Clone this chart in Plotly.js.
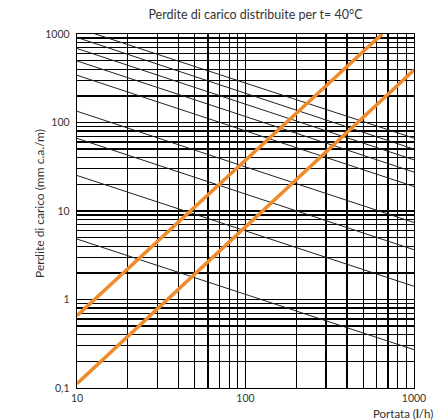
<!DOCTYPE html>
<html>
<head>
<meta charset="utf-8">
<script src="https://cdn.plot.ly/plotly-3.0.1.min.js"></script>
<style>html,body{margin:0;padding:0;background:#fff;}#chart{width:437px;height:420px;}</style>
</head>
<body>
<div id="chart"></div>
<script>
// ---- data ----
// black reference lines: value at x = 10 l/h and at x = 1000 l/h (straight in log-log)
const blackX = [10, 1000];
const blackY10 = [1170, 913, 686, 496, 342, 134, 66.2, 25.2, 4.82];
const blackY1000 = [66.5, 50, 37.8, 27.5, 18.9, 7.41, 3.65, 1.41, 0.271];

// orange curves
const orangeUpperX = [10, 648];
const orangeUpperY = [0.656, 1000];
const orangeLowerX = [10, 1000];
const orangeLowerY = [0.112, 392];

// tick labels
const xMajor = [10, 100, 1000];
const xTickLabels = ['10', '100', '1000'];
const yMajor = [0.1, 1, 10, 100, 1000];
const yTickLabels = ['0,1', '1', '10', '100', '1000'];

const titleText = 'Perdite di carico distribuite per t= 40°C';
const xTitle = 'Portata (<b>l</b>/h)';
const yTitle = 'Perdite di carico (mm c.a./m)';

// ---- grid (1..9 per decade) ----
function gridVals(majors) {
  const vals = [];
  for (let i = 0; i < majors.length; i++) {
    vals.push(majors[i]);
    if (i < majors.length - 1) {
      for (let k = 2; k <= 9; k++) vals.push(majors[i] * k);
    }
  }
  return vals;
}
const xGrid = gridVals(xMajor);
const yGrid = gridVals(yMajor);
const xText = xGrid.map(v => { const j = xMajor.findIndex(m => Math.abs(m - v) < 1e-9); return j >= 0 ? xTickLabels[j] : ''; });
const yText = yGrid.map(v => { const j = yMajor.findIndex(m => Math.abs(m - v) < 1e-9); return j >= 0 ? yTickLabels[j] : ''; });

const traces = [];
for (let i = 0; i < blackY10.length; i++) {
  traces.push({
    x: blackX, y: [blackY10[i], blackY1000[i]],
    mode: 'lines', line: {color: '#222', width: 1}, hoverinfo: 'skip', showlegend: false
  });
}
traces.push({x: orangeUpperX, y: orangeUpperY, mode: 'lines', line: {color: '#EE8C2C', width: 3.5}, showlegend: false});
traces.push({x: orangeLowerX, y: orangeLowerY, mode: 'lines', line: {color: '#EE8C2C', width: 3.5}, showlegend: false});

const FONT = 'Lato, "Open Sans", sans-serif';
const W = 437, H = 420, L = 77, R = 23, T = 34, B = 32;
const pw = W - L - R, ph = H - T - B;

const layout = {
  width: W, height: H,
  margin: {l: L, r: R, t: T, b: B},
  paper_bgcolor: '#fff', plot_bgcolor: '#fff',
  font: {family: FONT, size: 11, color: '#222'},
  title: {text: titleText, font: {family: FONT, size: 12.5, color: '#333'},
          x: 255.5 / W, xanchor: 'center', y: 1 - 15 / H, yanchor: 'middle'},
  xaxis: {
    type: 'log', range: [1, 3],
    tickvals: xGrid, ticktext: xText, tickfont: {size: 10.5, color: '#333'},
    ticklabelstandoff: 0,
    showgrid: true, gridcolor: '#000', gridwidth: 1.3,
    showline: true, linecolor: '#000', linewidth: 1.3, mirror: true,
    ticks: '', zeroline: false, fixedrange: true
  },
  yaxis: {
    type: 'log', range: [-1, 3],
    tickvals: yGrid, ticktext: yText, tickfont: {size: 10.5, color: '#333'},
    ticklabelstandoff: 4,
    showgrid: true, gridcolor: '#000', gridwidth: 1.3,
    showline: true, linecolor: '#000', linewidth: 1.3, mirror: true,
    ticks: '', zeroline: false, fixedrange: true
  },
  annotations: [
    {text: xTitle, xref: 'paper', yref: 'paper', x: (434 - L) / pw, y: (H - B - 413) / ph,
     xanchor: 'right', yanchor: 'middle', borderpad: 0, showarrow: false, font: {family: FONT, size: 11.5, color: '#333'}},
    {text: yTitle, xref: 'paper', yref: 'paper', x: (39 - L) / pw, y: (H - B - 204) / ph,
     xanchor: 'center', yanchor: 'middle', textangle: -90, showarrow: false, font: {family: FONT, size: 12, color: '#333'}}
  ]
};

Plotly.newPlot('chart', traces, layout, {displayModeBar: false, staticPlot: true});
</script>
</body>
</html>
